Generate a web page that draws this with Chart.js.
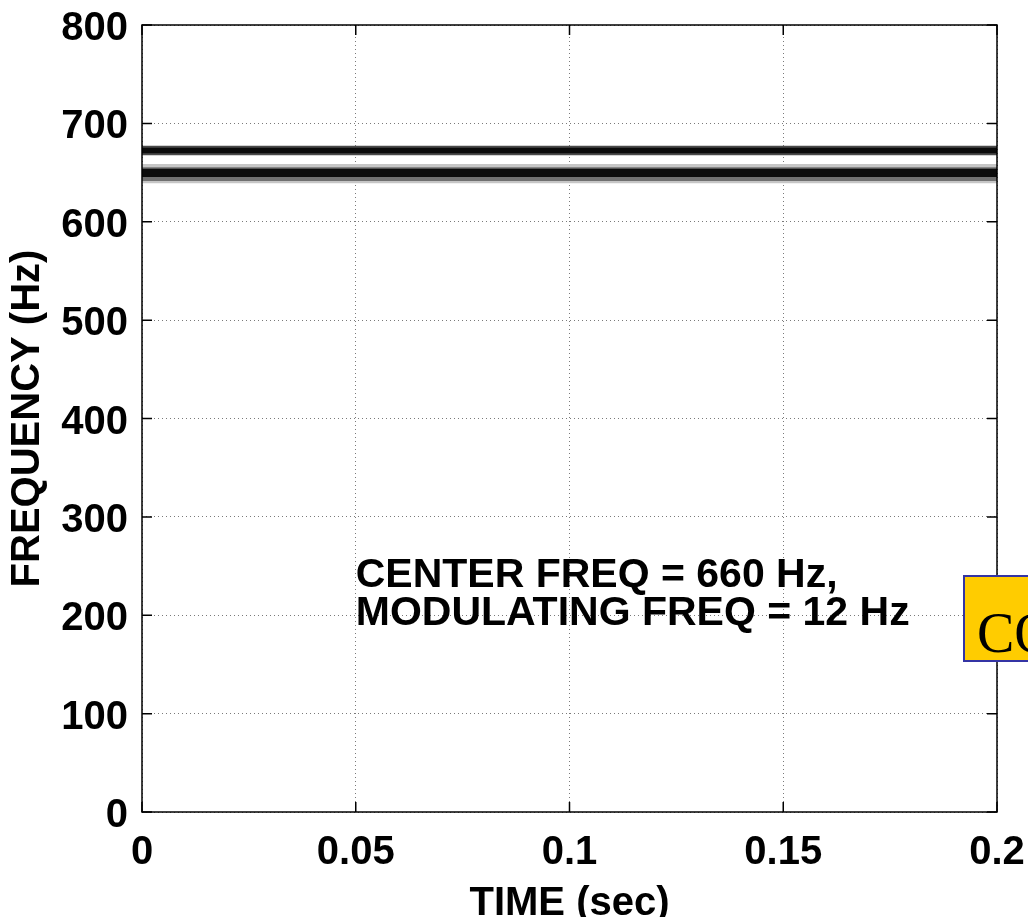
<!DOCTYPE html>
<html>
<head>
<meta charset="utf-8">
<script src="https://cdn.jsdelivr.net/npm/chart.js@4/dist/chart.umd.min.js"></script>
<style>
  html, body { margin: 0; padding: 0; background: #fff; }
  canvas { display: block; }
</style>
</head>
<body>
<canvas id="specChart" width="1028" height="917"></canvas>
<script>
// axis ranges / ticks
const timeRange = [0, 0.2];
const freqRange = [0, 800];
const timeTicks = [0, 0.05, 0.1, 0.15, 0.2];
const freqTicks = [0, 100, 200, 300, 400, 500, 600, 700, 800];

// spectrogram bands (Hz), first entry drawn on top
const bandLo = [669.7, 667.7, 645.5, 641.3, 639.2];
const bandHi = [675.3, 677.3, 654.0, 655.5, 658.8];
const bandShade = ["#0b0b0b", "#4a4a4a", "#0b0b0b", "#707070", "#c6c6c6"];

// annotation
const noteLines = ["CENTER FREQ = 660 Hz,", "MODULATING FREQ = 12 Hz"];
const noteX = 0.05;
const noteY = [228.7, 190];

const FONT = "'Liberation Sans', Arial, Helvetica, sans-serif";

const datasets = bandHi.map(function (hi, i) {
  return {
    data: [{ x: timeRange[0], y: hi }, { x: timeRange[1], y: hi }],
    fill: { value: bandLo[i] },
    backgroundColor: bandShade[i],
    borderWidth: 0,
    pointRadius: 0,
  };
});

// no extra room for labels hanging over the ends of the axes
function noOverhang(scale) {
  scale.paddingLeft = 0;
  scale.paddingRight = 0;
  scale.paddingTop = 0;
  scale.paddingBottom = 0;
}

// frame, inward ticks, note text and the yellow box
const decorations = {
  id: "decorations",
  afterDatasetsDraw(chart) {
    const ctx = chart.ctx;
    const a = chart.chartArea;
    const xs = chart.scales.x, ys = chart.scales.y;
    ctx.save();
    ctx.strokeStyle = "#000";
    ctx.lineWidth = 1.5;
    ctx.beginPath();
    timeTicks.forEach(function (t) {
      const px = xs.getPixelForValue(t);
      ctx.moveTo(px, a.bottom); ctx.lineTo(px, a.bottom - 10);
      ctx.moveTo(px, a.top); ctx.lineTo(px, a.top + 10);
    });
    freqTicks.forEach(function (f) {
      const py = ys.getPixelForValue(f);
      ctx.moveTo(a.left, py); ctx.lineTo(a.left + 10, py);
      ctx.moveTo(a.right, py); ctx.lineTo(a.right - 10, py);
    });
    ctx.stroke();
    ctx.strokeRect(a.left, a.top, a.right - a.left, a.bottom - a.top);

    ctx.fillStyle = "#000";
    ctx.font = "bold 41px " + FONT;
    ctx.textAlign = "left";
    ctx.textBaseline = "alphabetic";
    noteLines.forEach(function (line, i) {
      ctx.fillText(line, xs.getPixelForValue(noteX), ys.getPixelForValue(noteY[i]));
    });
    ctx.restore();
  },
  afterDraw(chart) {
    const ctx = chart.ctx;
    ctx.save();
    ctx.fillStyle = "#ffcc00";
    ctx.fillRect(964, 576, 100, 85);
    ctx.strokeStyle = "#3434a4";
    ctx.lineWidth = 2;
    ctx.strokeRect(964, 576, 100, 85);
    ctx.fillStyle = "#000";
    ctx.font = "56px 'Liberation Serif', 'Times New Roman', serif";
    ctx.textBaseline = "alphabetic";
    ctx.fillText("CO", 977, 652);
    ctx.restore();
  },
};

new Chart(document.getElementById("specChart"), {
  type: "line",
  data: { datasets: datasets },
  options: {
    responsive: false,
    animation: false,
    devicePixelRatio: 1,
    layout: { padding: { top: 25, right: 31, left: 0, bottom: 0 } },
    plugins: { legend: { display: false }, tooltip: { enabled: false } },
    scales: {
      x: {
        type: "linear",
        min: timeRange[0],
        max: timeRange[1],
        afterBuildTicks: function (scale) {
          scale.ticks = timeTicks.map(function (v) { return { value: v }; });
        },
        afterFit: function (scale) { scale.height = 105; noOverhang(scale); },
        grid: { color: "#7a7a7a", lineWidth: 1, drawTicks: false },
        border: { display: false, dash: [1, 3] },
        ticks: {
          color: "#000",
          padding: 17,
          maxRotation: 0,
          font: { family: FONT, size: 40, weight: "bold" },
          callback: function (v) { return String(v); },
        },
        title: {
          display: true,
          text: "TIME (sec)",
          color: "#000",
          font: { family: FONT, size: 40, weight: "bold", lineHeight: 0.65 },
          padding: { top: 0, bottom: 0 },
        },
      },
      y: {
        type: "linear",
        min: freqRange[0],
        max: freqRange[1],
        afterBuildTicks: function (scale) {
          scale.ticks = freqTicks.map(function (v) { return { value: v }; });
        },
        afterFit: function (scale) { scale.width = 142; noOverhang(scale); },
        grid: { color: "#7a7a7a", lineWidth: 1, drawTicks: false },
        border: { display: false, dash: [1, 3] },
        ticks: {
          color: "#000",
          padding: 14,
          labelOffset: 4,
          font: { family: FONT, size: 40, weight: "bold" },
        },
        title: {
          display: true,
          text: "FREQUENCY (Hz)",
          color: "#000",
          font: { family: FONT, size: 40, weight: "bold", lineHeight: 0.8 },
          padding: { top: 12, bottom: 0 },
        },
      },
    },
  },
  plugins: [decorations],
});
</script>
</body>
</html>
